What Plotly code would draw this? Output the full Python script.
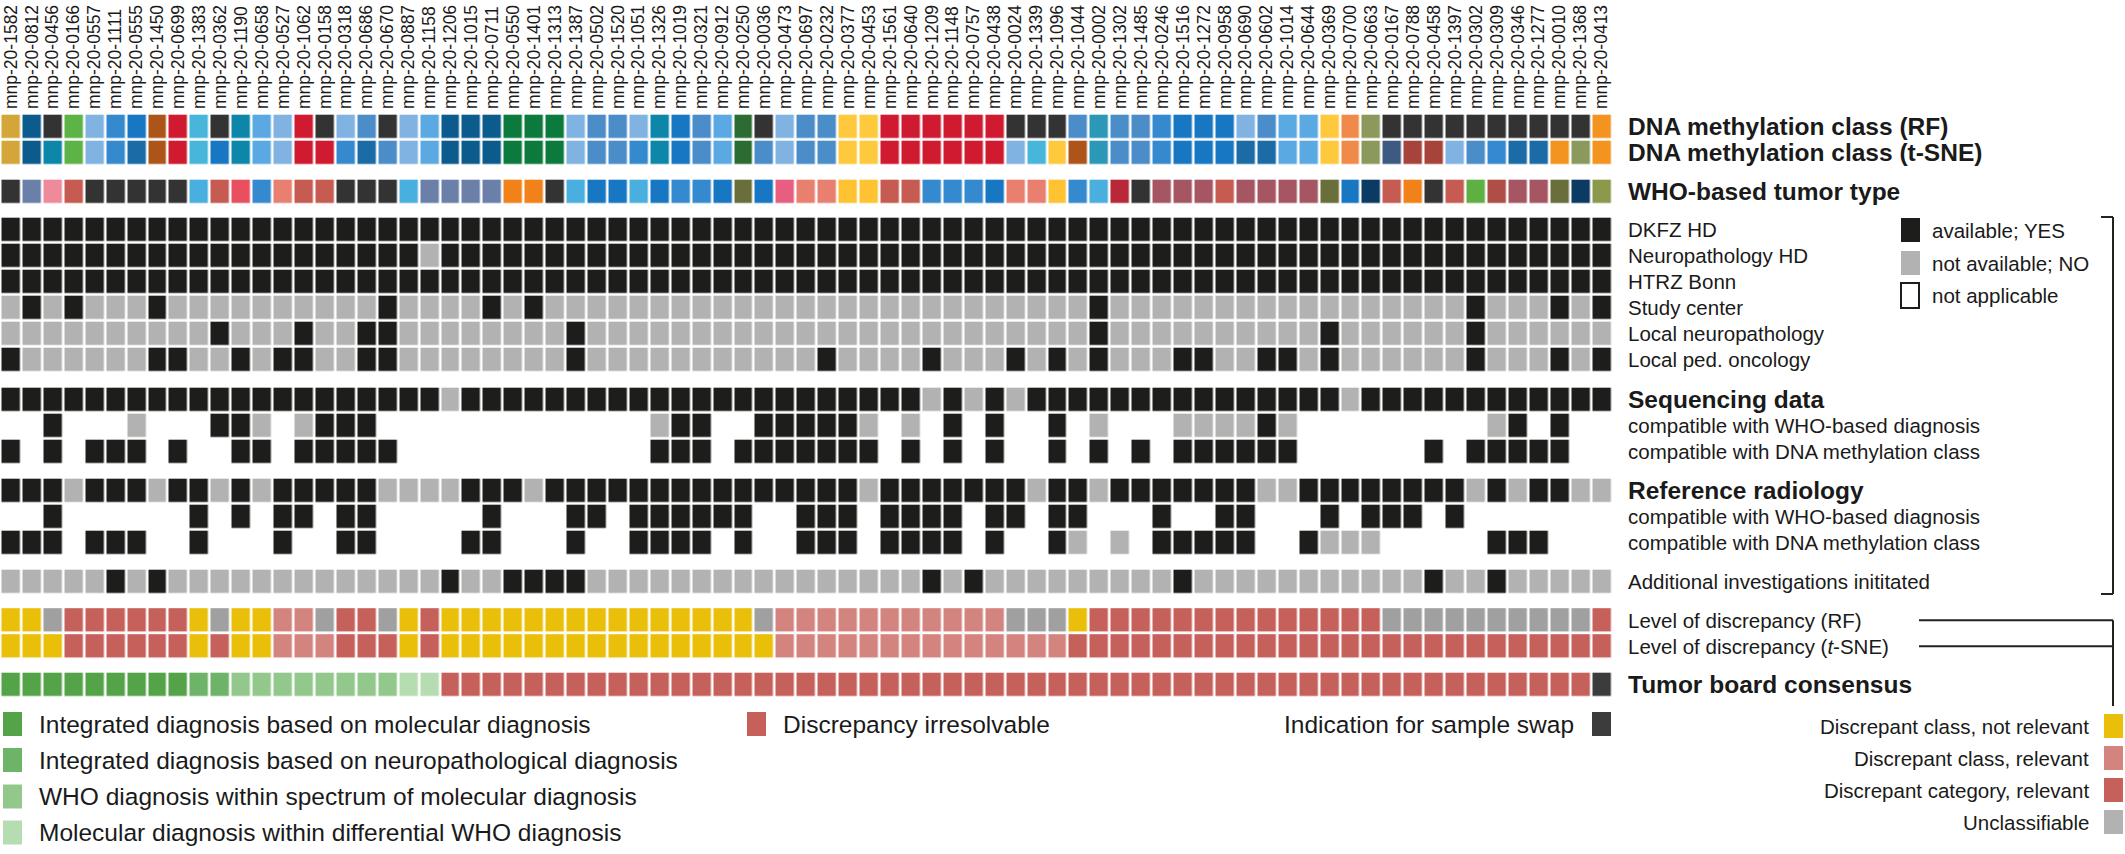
import plotly.graph_objects as go

W, H = 2125, 854

samples = [
    "mnp-20-1582", "mnp-20-0812", "mnp-20-0456", "mnp-20-0166", "mnp-20-0557", "mnp-20-1111",
    "mnp-20-0555", "mnp-20-1450", "mnp-20-0699", "mnp-20-1383", "mnp-20-0362", "mnp-20-1190",
    "mnp-20-0658", "mnp-20-0527", "mnp-20-1062", "mnp-20-0158", "mnp-20-0318", "mnp-20-0686",
    "mnp-20-0670", "mnp-20-0887", "mnp-20-1158", "mnp-20-1206", "mnp-20-1015", "mnp-20-0711",
    "mnp-20-0550", "mnp-20-1401", "mnp-20-1313", "mnp-20-1387", "mnp-20-0502", "mnp-20-1520",
    "mnp-20-1051", "mnp-20-1326", "mnp-20-1019", "mnp-20-0321", "mnp-20-0912", "mnp-20-0250",
    "mnp-20-0036", "mnp-20-0473", "mnp-20-0697", "mnp-20-0232", "mnp-20-0377", "mnp-20-0453",
    "mnp-20-1561", "mnp-20-0640", "mnp-20-1209", "mnp-20-1148", "mnp-20-0757", "mnp-20-0438",
    "mnp-20-0024", "mnp-20-1339", "mnp-20-1096", "mnp-20-1044", "mnp-20-0002", "mnp-20-1302",
    "mnp-20-1485", "mnp-20-0246", "mnp-20-1516", "mnp-20-1272", "mnp-20-0958", "mnp-20-0690",
    "mnp-20-0602", "mnp-20-1014", "mnp-20-0644", "mnp-20-0369", "mnp-20-0700", "mnp-20-0663",
    "mnp-20-0167", "mnp-20-0788", "mnp-20-0458", "mnp-20-1397", "mnp-20-0302", "mnp-20-0309",
    "mnp-20-0346", "mnp-20-1277", "mnp-20-0010", "mnp-20-1368", "mnp-20-0413",
]
cols = list(range(1, len(samples) + 1))

# DNA methylation class per sample (class codes)
rf_class = [
    "A", "B", "C", "D", "E", "F", "G", "I", "J", "K",
    "C", "L", "M", "E", "J", "C", "E", "N", "C", "E",
    "M", "B", "B", "B", "P", "P", "P", "E", "N", "N",
    "E", "L", "G", "N", "M", "Q", "C", "E", "N", "N",
    "R", "R", "J", "J", "J", "J", "J", "J", "C", "C",
    "C", "N", "X", "N", "N", "F", "G", "G", "G", "E",
    "N", "M", "M", "R", "S", "T", "C", "C", "C", "C",
    "C", "C", "C", "C", "C", "C", "W",
]
tsne_class = [
    "A", "B", "L", "D", "E", "F", "H", "I", "J", "K",
    "G", "L", "M", "E", "J", "J", "F", "H", "N", "E",
    "M", "B", "B", "B", "P", "P", "P", "E", "N", "N",
    "F", "L", "G", "N", "M", "Q", "N", "E", "N", "N",
    "R", "R", "J", "J", "J", "J", "J", "J", "E", "K",
    "R", "I", "X", "N", "N", "F", "G", "G", "G", "H",
    "H", "M", "M", "R", "S", "T", "U", "V", "V", "E",
    "N", "F", "H", "H", "W", "T", "W",
]
# WHO-based tumor type per sample (type codes)
who_type = [
    "a", "b", "c", "d", "a", "a", "a", "a", "a", "e",
    "d", "f", "g", "h", "d", "d", "a", "a", "a", "e",
    "b", "b", "b", "b", "j", "j", "a", "e", "k", "k",
    "e", "k", "g", "g", "k", "l", "k", "m", "h", "h",
    "n", "n", "d", "d", "g", "g", "g", "k", "h", "h",
    "n", "g", "e", "o", "a", "p", "p", "p", "d", "p",
    "p", "p", "p", "l", "k", "q", "d", "j", "a", "d",
    "r", "s", "p", "p", "l", "q", "t",
]

# availability / compatibility: sample numbers (1-based) deviating from the row default
dkfz_no = []
neuropath_no = [21]
htrz_no = []
study_yes = [2, 4, 8, 19, 24, 26, 53, 71, 75, 77]
local_np_yes = [11, 15, 18, 19, 28, 53, 64, 71]
local_po_yes = [1, 8, 9, 12, 14, 15, 18, 19, 28, 40, 45, 49, 51, 53, 57, 58, 61, 62, 64, 71, 75, 77]
seq_no = [22, 45, 47, 49, 65]
seq_who_yes = [3, 11, 12, 16, 17, 18, 33, 34, 37, 38, 39, 40, 41, 46, 48, 51, 61, 73, 75]
seq_who_no = [7, 13, 15, 32, 42, 44, 53, 57, 58, 59, 60, 62, 72]
seq_dna_yes = [1, 3, 5, 6, 7, 9, 12, 13, 15, 16, 17, 18, 19, 32, 33, 34, 36, 37, 38, 39, 40,
               41, 42, 44, 46, 48, 51, 53, 55, 57, 58, 59, 60, 61, 62, 69, 71, 72, 73, 74, 75]
rad_no = [4, 8, 11, 13, 19, 20, 21, 22, 26, 42, 50, 53, 61, 62, 71, 73, 76, 77]
rad_who_yes = [3, 10, 12, 14, 15, 17, 18, 24, 28, 29, 31, 32, 33, 34, 35, 36, 39, 40, 41, 43,
               44, 45, 46, 48, 49, 51, 52, 56, 59, 60, 64, 66, 67, 68, 70]
rad_dna_yes = [1, 2, 3, 5, 6, 7, 10, 14, 17, 18, 23, 24, 28, 31, 32, 33, 34, 36, 39, 40, 41,
               43, 44, 45, 46, 48, 51, 56, 57, 58, 59, 60, 63, 72, 73, 74]
rad_dna_no = [52, 54, 64, 65, 66]
extra_yes = [6, 8, 22, 25, 26, 27, 28, 45, 47, 57, 69, 72]

# level of discrepancy: N not relevant, C class relevant, K category relevant, U unclassifiable
level_rf = [
    "N", "N", "U", "K", "K", "K", "K", "K", "K", "N",
    "U", "N", "N", "C", "C", "U", "K", "K", "U", "N",
    "K", "N", "N", "N", "N", "N", "N", "N", "N", "N",
    "N", "N", "N", "N", "N", "N", "U", "C", "C", "C",
    "C", "C", "C", "C", "C", "C", "C", "C", "U", "U",
    "U", "N", "K", "K", "K", "K", "K", "K", "K", "K",
    "K", "K", "K", "K", "K", "K", "U", "U", "U", "U",
    "U", "U", "U", "U", "U", "U", "K",
]
level_tsne = [
    "N", "N", "N", "K", "K", "K", "K", "K", "K", "N",
    "K", "N", "N", "C", "C", "C", "K", "K", "K", "N",
    "K", "N", "N", "N", "N", "N", "N", "N", "N", "N",
    "N", "N", "N", "N", "N", "N", "N", "C", "C", "C",
    "C", "C", "C", "C", "C", "C", "C", "C", "C", "C",
    "C", "K", "K", "K", "K", "K", "K", "K", "K", "K",
    "K", "K", "K", "K", "K", "K", "K", "K", "K", "K",
    "K", "K", "K", "K", "K", "K", "K",
]
# tumor board consensus
board = [
    "MOL", "MOL", "MOL", "MOL", "MOL", "MOL", "MOL", "MOL", "MOL", "NEU",
    "NEU", "SPEC", "SPEC", "SPEC", "SPEC", "SPEC", "SPEC", "SPEC", "SPEC", "DIFF",
    "DIFF", "IRR", "IRR", "IRR", "IRR", "IRR", "IRR", "IRR", "IRR", "IRR",
    "IRR", "IRR", "IRR", "IRR", "IRR", "IRR", "IRR", "IRR", "IRR", "IRR",
    "IRR", "IRR", "IRR", "IRR", "IRR", "IRR", "IRR", "IRR", "IRR", "IRR",
    "IRR", "IRR", "IRR", "IRR", "IRR", "IRR", "IRR", "IRR", "IRR", "IRR",
    "IRR", "IRR", "IRR", "IRR", "IRR", "IRR", "IRR", "IRR", "IRR", "IRR",
    "IRR", "IRR", "IRR", "IRR", "IRR", "IRR", "SWAP",
]

# ---------------- colours ----------------
CLASS_COLORS = {
    "A": "#d4a63a", "B": "#0b5b8c", "C": "#333333", "D": "#5cb346", "E": "#80b3e2",
    "F": "#358acf", "G": "#1877c2", "H": "#1b6ba6", "I": "#ad5519", "J": "#d01a30",
    "K": "#47b6da", "L": "#0c86a9", "M": "#5ba9e2", "N": "#4a8dc8", "P": "#0c7a3c",
    "Q": "#2c6c33", "R": "#ffc93d", "S": "#f08a4b", "T": "#8b9a5c", "U": "#3d5b82",
    "V": "#a6433a", "W": "#f39320", "X": "#2b98b8",
}
WHO_COLORS = {
    "a": "#333333", "b": "#6a80a8", "c": "#ee8a9a", "d": "#c65b52", "e": "#49afdf",
    "f": "#e8505f", "g": "#358acf", "h": "#e9806f", "j": "#f18119", "k": "#1877c2",
    "l": "#6a6e3b", "m": "#e75e80", "n": "#ffc232", "o": "#b92838", "p": "#a65663",
    "q": "#0b3b62", "r": "#5db041", "s": "#af4e46", "t": "#8a9a4a",
}
AVAIL_COLORS = {"Y": "#1d1d1b", "N": "#b2b2b2"}
LEVEL_COLORS = {"N": "#eabf0a", "C": "#d4847f", "K": "#c6605a", "U": "#a0a0a0"}
BOARD_COLORS = {"MOL": "#55a348", "NEU": "#6db368", "SPEC": "#93c88d", "DIFF": "#b6dcb1",
                "IRR": "#c6605a", "SWAP": "#3c3c3c"}

# ---------------- geometry (pixels) ----------------
TOP = 110          # top of plotting area; sample ids live above it
COL_PX = 20.93     # column pitch
FIRST_PX = 10.9    # centre of the first column
CELL_H = 23.3
GAP_X = 2.6
GAP_Y = 2.7
LABEL_X = 1626
FONT = "Liberation Sans, Arial, Helvetica, sans-serif"
INK = "#1a1a1a"

ROW_TOP = {
    "rf": 115, "tsne": 141, "who": 180,
    "dkfz": 218, "neuro": 244, "htrz": 270, "study": 296, "lnp": 322, "lpo": 348,
    "seq": 388, "seq_who": 414, "seq_dna": 440,
    "rad": 479, "rad_who": 505, "rad_dna": 531,
    "extra": 570, "lev_rf": 608.5, "lev_tsne": 634.5, "board": 673,
}


def flags(default, yes=(), no=()):
    row = [default] * len(samples)
    for c in yes:
        row[c - 1] = "Y"
    for c in no:
        row[c - 1] = "N"
    return row


rows = [
    ("rf", rf_class, CLASS_COLORS, "DNA methylation class (RF)", True),
    ("tsne", tsne_class, CLASS_COLORS, "DNA methylation class (t-SNE)", True),
    ("who", who_type, WHO_COLORS, "WHO-based tumor type", True),
    ("dkfz", flags("Y", no=dkfz_no), AVAIL_COLORS, "DKFZ HD", False),
    ("neuro", flags("Y", no=neuropath_no), AVAIL_COLORS, "Neuropathology HD", False),
    ("htrz", flags("Y", no=htrz_no), AVAIL_COLORS, "HTRZ Bonn", False),
    ("study", flags("N", yes=study_yes), AVAIL_COLORS, "Study center", False),
    ("lnp", flags("N", yes=local_np_yes), AVAIL_COLORS, "Local neuropathology", False),
    ("lpo", flags("N", yes=local_po_yes), AVAIL_COLORS, "Local ped. oncology", False),
    ("seq", flags("Y", no=seq_no), AVAIL_COLORS, "Sequencing data", True),
    ("seq_who", flags(None, yes=seq_who_yes, no=seq_who_no), AVAIL_COLORS,
     "compatible with WHO-based diagnosis", False),
    ("seq_dna", flags(None, yes=seq_dna_yes), AVAIL_COLORS,
     "compatible with DNA methylation class", False),
    ("rad", flags("Y", no=rad_no), AVAIL_COLORS, "Reference radiology", True),
    ("rad_who", flags(None, yes=rad_who_yes), AVAIL_COLORS,
     "compatible with WHO-based diagnosis", False),
    ("rad_dna", flags(None, yes=rad_dna_yes, no=rad_dna_no), AVAIL_COLORS,
     "compatible with DNA methylation class", False),
    ("extra", flags("N", yes=extra_yes), AVAIL_COLORS, "Additional investigations inititated", False),
    ("lev_rf", level_rf, LEVEL_COLORS, "Level of discrepancy (RF)", False),
    ("lev_tsne", level_tsne, LEVEL_COLORS, "Level of discrepancy (<i>t</i>-SNE)", False),
    ("board", board, BOARD_COLORS, "Tumor board consensus", True),
]

fig = go.Figure()
annotations = []
shapes = []


def px(x):
    return x / W


def label(x, y, text, size, bold=False, anchor="left"):
    if bold:
        text = "<b>" + text + "</b>"
    annotations.append(dict(
        x=px(x), y=y, xref="paper", yref="y", text=text, showarrow=False,
        xanchor=anchor, yanchor="middle", font=dict(family=FONT, size=size, color=INK),
    ))


def swatch(x0, yc, color, outline=False, w=19, h=24):
    shapes.append(dict(
        type="rect", xref="paper", yref="y", x0=px(x0), x1=px(x0 + w),
        y0=yc - h / 2, y1=yc + h / 2, fillcolor=color,
        line=dict(color="#1d1d1b" if outline else color, width=2 if outline else 0),
    ))


def line(x0, y0, x1, y1):
    shapes.append(dict(type="line", xref="paper", yref="y", x0=px(x0), x1=px(x1),
                       y0=y0, y1=y1, line=dict(color="#222222", width=2)))


for key, codes, colors, text, bold in rows:
    keys = list(colors)
    n = len(keys)
    z = [[keys.index(c) if c is not None else None for c in codes]]
    scale = []
    for k, name in enumerate(keys):
        scale += [[k / n, colors[name]], [(k + 1) / n, colors[name]]]
    top = ROW_TOP[key]
    fig.add_trace(go.Heatmap(
        x=cols, y=[top - GAP_Y / 2, top + CELL_H + GAP_Y / 2], z=z,
        zmin=-0.5, zmax=n - 0.5, colorscale=scale, showscale=False,
        xgap=GAP_X, ygap=GAP_Y, hoverinfo="skip",
    ))
    label(LABEL_X, top + CELL_H / 2, text, 24.5 if bold else 20.5, bold)

# availability legend (top right)
swatch(1901, 230, AVAIL_COLORS["Y"])
swatch(1901, 263, AVAIL_COLORS["N"])
swatch(1901, 295.5, "#ffffff", outline=True, w=18, h=25)
label(1930, 230, "available; YES", 20.5)
label(1930, 263, "not available; NO", 20.5)
label(1930, 295.5, "not applicable", 20.5)

# bracket grouping the availability rows
line(2101, 217, 2113, 217)
line(2113, 217, 2113, 594)
line(2101, 594, 2113, 594)

# connectors from discrepancy rows to their legend
y_rf = ROW_TOP["lev_rf"] + CELL_H / 2
y_ts = ROW_TOP["lev_tsne"] + CELL_H / 2
line(1919, y_rf, 2113, y_rf)
line(1919, y_ts, 2113, y_ts)
line(2113, y_rf, 2113, 706)

# discrepancy legend (bottom right)
for yc, code, text in [(726, "N", "Discrepant class, not relevant"),
                       (758, "C", "Discrepant class, relevant"),
                       (790, "K", "Discrepant category, relevant"),
                       (822, "U", "Unclassifiable")]:
    swatch(2104, yc, "#b2b2b2" if code == "U" else LEVEL_COLORS[code])
    label(2091, yc, text, 20.5, anchor="right")

# tumor board legend (bottom left)
for yc, code, text in [(724, "MOL", "Integrated diagnosis based on molecular diagnosis"),
                       (760, "NEU", "Integrated diagnosis based on neuropathological diagnosis"),
                       (796.5, "SPEC", "WHO diagnosis within spectrum of molecular diagnosis"),
                       (832.5, "DIFF", "Molecular diagnosis within differential WHO diagnosis")]:
    swatch(3, yc, BOARD_COLORS[code])
    label(37, yc, text, 24.5)
swatch(747, 724, BOARD_COLORS["IRR"])
label(781, 724, "Discrepancy irresolvable", 24.5)
swatch(1592, 724, BOARD_COLORS["SWAP"])
label(1576, 724, "Indication for sample swap", 24.5, anchor="right")

fig.update_layout(
    width=W, height=H,
    margin=dict(l=0, r=0, t=TOP, b=0),
    paper_bgcolor="white", plot_bgcolor="white",
    showlegend=False,
    annotations=annotations, shapes=shapes,
    xaxis=dict(
        range=[1 - FIRST_PX / COL_PX, 1 + (W - FIRST_PX) / COL_PX],
        side="top", tickmode="array", tickvals=cols, ticktext=samples,
        tickangle=-90, ticks="", showgrid=False, zeroline=False, showline=False,
        tickfont=dict(family=FONT, size=17.5, color=INK), automargin=False,
    ),
    yaxis=dict(
        range=[H, TOP], showticklabels=False, showgrid=False, zeroline=False,
        showline=False, ticks="", automargin=False,
    ),
)

# page body margin would shift the figure and add scrollbars
fig.write_html("out.html", config={"displayModeBar": False},
               post_script="document.body.style.margin='0';"
                           "document.body.style.overflow='hidden';")
